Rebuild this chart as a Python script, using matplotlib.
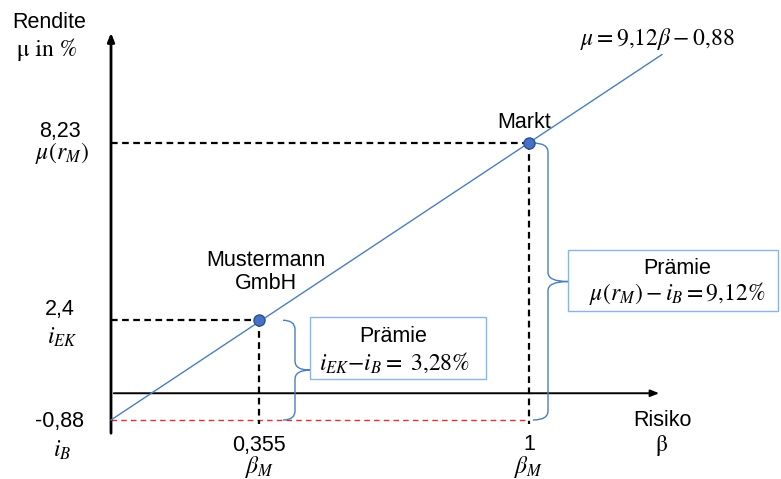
import matplotlib.pyplot as plt
import numpy as np
from matplotlib.path import Path
from matplotlib.patches import PathPatch, Rectangle

############################### données ###############################

# droite du marché : mu = a*beta + b
slope = 9.12
intercept = -0.88           # i_B, taux sans risque
beta_end = 1.318            # fin de la droite dessinée

# les deux points
point_names = ["Mustermann\nGmbH", "Markt"]
point_beta = [0.355, 1.0]
point_mu = [2.4, 8.23]

beta_labels = ["0,355", "1"]
mu_labels = ["8,23", "2,4", "-0,88"]
mu_values = [8.23, 2.4, -0.88]
mu_symbols = [r"$\mu(r_M)$", r"$i_{EK}$", r"$i_B$"]

premium_text = [r"$i_{EK}{-}i_B{=}\ 3{,}28\%$", r"$\mu(r_M) - i_B = 9{,}12\%$"]

############################### style ###############################

plt.rcParams['font.family'] = ['Liberation Sans', 'DejaVu Sans']
plt.rcParams['mathtext.fontset'] = 'stix'

BLUE = '#4a7ebb'
BOX = '#8db3e2'
FS = 15.5   # texte
MS = 17     # formules

# conversion pixel -> coordonnées (seulement pour placer les annotations)
def bx(px):
    return (px - 111) / 418

def my(py):
    return (420 - py) / 30.4 - 0.88

fig = plt.figure(figsize=(7.81, 4.79), dpi=100)
ax = fig.add_axes([0, 0, 1, 1])
ax.set_xlim(bx(0), bx(781))
ax.set_ylim(my(479), my(0))
ax.axis('off')

# axes avec flèches
ax.annotate('', xy=(0, my(30)), xytext=(0, my(436)),
            arrowprops=dict(arrowstyle='-|>,head_length=0.5,head_width=0.2', lw=2, color='black'))
ax.annotate('', xy=(beta_end, 0), xytext=(0, 0),
            arrowprops=dict(arrowstyle='-|>,head_length=0.5,head_width=0.2', lw=1.4, color='black'))

# droite
b = np.array([0, beta_end])
ax.plot(b, slope * b + intercept, color=BLUE, lw=1, zorder=3)

# ligne rouge i_B
ax.plot([0, 1], [intercept, intercept], color='#e03030', lw=1, ls=(0, (4, 3)), zorder=2)

# pointillés noirs
for xb, ym in zip(point_beta, point_mu):
    ax.plot([0, xb], [ym, ym], color='black', lw=1.6, ls=(0, (3, 2)), zorder=2)
    ax.plot([xb, xb], [ym, my(424)], color='black', lw=1.6, ls=(0, (3, 2)), zorder=2)

ax.plot(point_beta, point_mu, 'o', ms=8, color='#4472c4', mec='#2f528f', mew=1, zorder=5)

# accolades
def brace(x_end, x_mid, x_tip, y_top, y_bot, r=0.3):
    yc = (y_top + y_bot) / 2
    verts = [(x_end, y_top), (x_mid, y_top), (x_mid, y_top - r),
             (x_mid, yc + r), (x_mid, yc), (x_tip, yc),
             (x_mid, yc), (x_mid, yc - r),
             (x_mid, y_bot + r), (x_mid, y_bot), (x_end, y_bot)]
    codes = [Path.MOVETO, Path.CURVE3, Path.CURVE3,
             Path.LINETO, Path.CURVE3, Path.CURVE3,
             Path.CURVE3, Path.CURVE3,
             Path.LINETO, Path.CURVE3, Path.CURVE3]
    ax.add_patch(PathPatch(Path(verts, codes), fc='none', ec=BLUE, lw=1, zorder=4))

brace(bx(283), bx(295), bx(310), point_mu[0], intercept)
brace(bx(533), bx(548), bx(568), point_mu[1], intercept)

# boîtes
boxes = [(310, 317, 486, 379), (568, 250, 778, 311)]
text_pos = [((393, 336), (395, 363)), ((677, 268), (677, 294))]
for (x0, y0, x1, y1), (p1, p2), ptxt in zip(boxes, text_pos, premium_text):
    ax.add_patch(Rectangle((bx(x0), my(y1)), bx(x1) - bx(x0), my(y0) - my(y1),
                           fc='white', ec=BOX, lw=1, zorder=4))
    ax.text(bx(p1[0]), my(p1[1]), "Prämie", ha='center', va='center', fontsize=FS, zorder=6)
    ax.text(bx(p2[0]), my(p2[1]), ptxt, ha='center', va='center', fontsize=MS, zorder=6)

# étiquettes axe y
ax.text(bx(49), my(23), "Rendite", ha='center', va='center', fontsize=FS)
ax.text(bx(47), my(50), "μ in %", ha='center', va='center', fontsize=MS, family='STIXGeneral')
label_px = [(131, 153), (310, 337), (422, 450)]
for lab, sym, (p1, p2) in zip(mu_labels, mu_symbols, label_px):
    ax.text(bx(60), my(p1), lab, ha='center', va='center', fontsize=FS)
    ax.text(bx(62), my(p2), sym, ha='center', va='center', fontsize=MS)

# étiquettes axe x
for xb, lab in zip(point_beta, beta_labels):
    ax.text(xb, my(445), lab, ha='center', va='center', fontsize=FS)
    ax.text(xb, my(467), r"$\beta_M$", ha='center', va='center', fontsize=MS)
ax.text(bx(662), my(420), "Risiko", ha='center', va='center', fontsize=FS)
ax.text(bx(662), my(445), "β", ha='center', va='center', fontsize=MS, family='STIXGeneral')

# noms des points
ax.text(bx(524), my(122), point_names[1], ha='center', va='center', fontsize=FS)
ax.text(bx(266), my(272), point_names[0], ha='center', va='center', fontsize=FS, linespacing=1.15)

# équation
ax.text(bx(657), my(39), r"$\mu = 9{,}12\beta - 0{,}88$", ha='center', va='center', fontsize=MS)

fig.savefig("out.png", dpi=100)
